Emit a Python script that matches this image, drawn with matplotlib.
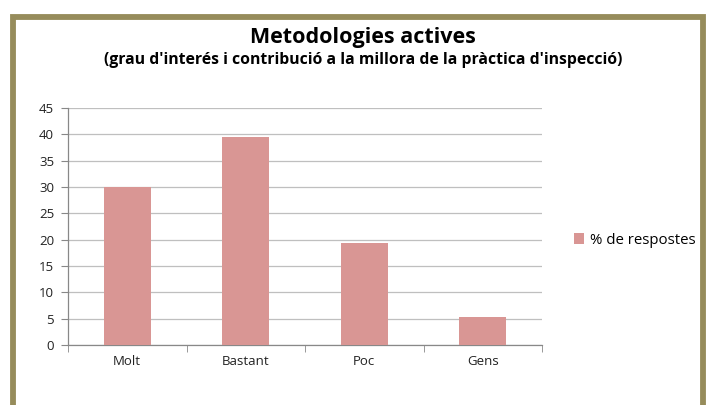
import matplotlib
matplotlib.use("Agg")
import matplotlib.pyplot as plt
from matplotlib.patches import Rectangle
import numpy as np

categories = ["Molt", "Bastant", "Poc", "Gens"]
values = [30.0, 39.5, 19.3, 5.3]
series_name = "% de respostes"
yticks = [0, 5, 10, 15, 20, 25, 30, 35, 40, 45]

plt.rcParams['font.family'] = ['Open Sans', 'DejaVu Sans']

fig = plt.figure(figsize=(7.1, 4.05), dpi=100)
ax = fig.add_axes([68/710, 1-345/405, (542-68)/710, (345-108)/405])

x = np.arange(len(categories))
ax.bar(x, values, width=0.4, color="#D99694", label=series_name, zorder=3)

ax.set_xlim(-0.5, len(categories) - 0.5)
ax.set_ylim(0, 45)
ax.set_yticks(yticks)
ax.set_yticklabels([str(v) for v in yticks], fontsize=9.5, color="#222222")
ax.set_xticks(x)
ax.set_xticklabels(categories, fontsize=9.5, color="#222222")
ax.set_xticks(np.arange(-0.5, len(categories), 1), minor=True)
ax.tick_params(axis="x", which="major", length=0, pad=7)
ax.tick_params(axis="x", which="minor", length=5, color="#888888")
ax.tick_params(axis="y", length=5, color="#888888", pad=5)
ax.yaxis.grid(True, color="#BFBFBF", linewidth=0.9, zorder=0)
for s in ["top", "right"]:
    ax.spines[s].set_visible(False)
for s in ["left", "bottom"]:
    ax.spines[s].set_color("#888888")
    ax.spines[s].set_linewidth(0.9)

fig.text(363/710, 1 - 38/405, "Metodologies actives", ha="center", va="center",
         fontsize=15.5, fontweight="bold", color="black")
fig.text(363/710, 1 - 60/405,
         "(grau d'interés i contribució a la millora de la pràctica d'inspecció)",
         ha="center", va="center", fontsize=11.3, fontweight="bold", color="black")

leg = fig.legend(loc="center left", bbox_to_anchor=(560/710, 1 - 240/405), frameon=False,
                 fontsize=10.8, handlelength=0.7, handleheight=0.7, handletextpad=0.4)

fig.patches.append(Rectangle((13/710, -0.2), (703-13)/710, 1.2 - 16.5/405 + 0.0,
                             transform=fig.transFigure, fill=False, edgecolor="#968C5B",
                             linewidth=4.2, figure=fig))

fig.savefig("out.png", dpi=100)
